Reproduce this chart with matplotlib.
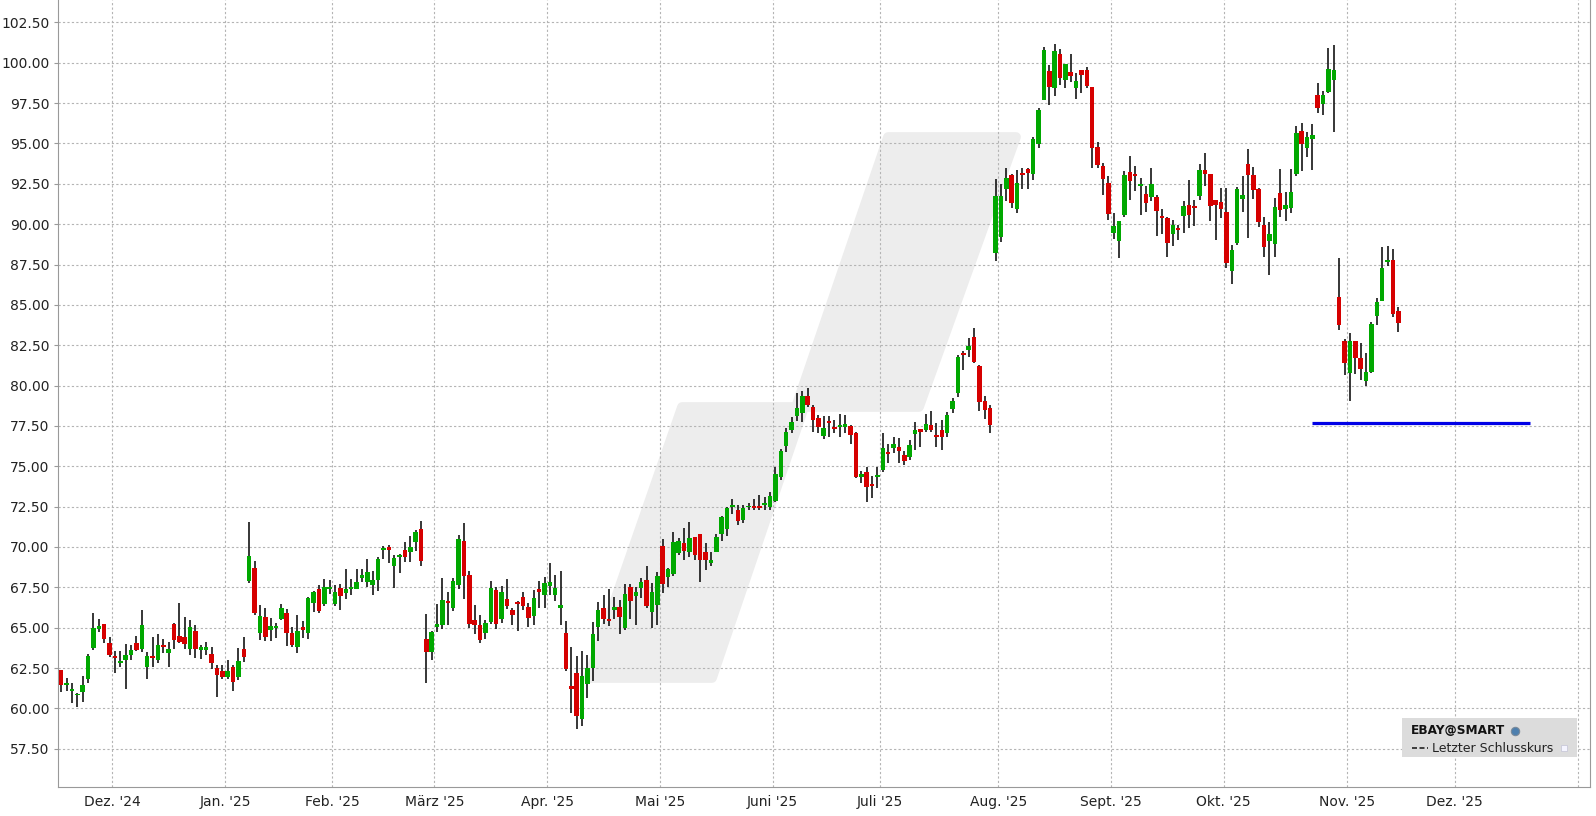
import numpy as np
import pandas as pd
import matplotlib
matplotlib.use("Agg")
import matplotlib.pyplot as plt
from matplotlib.patches import Polygon, Rectangle
from matplotlib.lines import Line2D

# Tageskerzen EBAY, ab 15.11.2024 (Handelstage)
opens = [62.37, 61.45, 61.10, 60.80, 61.03, 61.84, 63.76, 64.93, 65.22, 64.03,
         63.24, 62.83, 62.99, 63.30, 64.05, 63.70, 62.58, 63.24, 63.01, 63.90,
         63.45, 65.22, 64.48, 64.42, 63.70, 64.79, 63.63, 63.63, 63.37, 62.52,
         62.33, 61.96, 62.54, 61.96, 63.68, 67.91, 68.70, 64.69, 65.66, 64.86,
         65.00, 65.54, 65.91, 64.67, 63.82, 65.04, 64.69, 66.55, 67.40, 66.47,
         67.40, 66.47, 67.46, 67.13, 67.40, 67.40, 68.08, 67.83, 67.64, 67.95,
         69.81, 70.00, 68.82, 69.40, 69.81, 69.71, 70.33, 71.09, 64.30, 63.51,
         65.04, 65.19, 66.65, 66.24, 67.66, 70.37, 68.26, 65.48, 65.17, 64.69,
         65.37, 67.33, 65.56, 66.78, 66.10, 66.59, 66.90, 66.28, 65.74, 67.40,
         67.05, 67.60, 67.05, 66.24, 64.67, 61.39, 62.19, 59.36, 61.53, 62.52,
         65.06, 66.22, 65.54, 66.12, 66.30, 65.00, 67.52, 66.98, 67.48, 67.95,
         65.99, 66.43, 70.04, 68.16, 68.35, 69.65, 70.25, 69.71, 70.62, 70.80,
         69.69, 69.03, 69.71, 70.83, 71.14, 72.50, 72.29, 71.70, 72.45, 72.50,
         72.49, 72.60, 72.45, 72.86, 74.35, 76.25, 77.24, 78.11, 78.32, 79.37,
         78.69, 77.99, 76.89, 77.80, 77.43, 77.45, 77.41, 77.49, 77.06, 74.31,
         74.64, 73.92, 74.35, 74.76, 75.90, 76.13, 76.17, 75.69, 75.60, 77.00,
         77.31, 77.25, 77.56, 76.94, 77.25, 77.08, 78.55, 79.52, 82.04, 82.20,
         83.03, 81.23, 79.05, 78.63, 88.23, 89.23, 92.20, 93.05, 90.94, 93.17,
         93.42, 93.13, 94.99, 97.69, 99.49, 98.46, 100.54, 98.95, 99.43, 98.46,
         99.55, 99.55, 98.50, 94.76, 93.60, 92.53, 89.47, 88.97, 90.56, 93.23,
         93.12, 92.38, 91.86, 91.70, 91.68, 90.50, 90.38, 89.41, 89.76, 90.52,
         91.18, 91.12, 91.76, 93.35, 93.10, 91.49, 91.37, 90.75, 87.10, 88.85,
         91.58, 93.73, 93.05, 92.18, 89.95, 88.98, 88.79, 91.93, 90.94, 91.02,
         93.13, 95.77, 94.74, 95.30, 98.00, 97.45, 98.21, 98.93, 85.50, 82.76,
         80.80, 82.76, 81.69, 80.31, 80.86, 84.33, 85.26, 87.68, 87.78, 84.62]
highs = [62.40, 61.90, 61.55, 60.93, 62.00, 63.40, 65.88, 65.51, 65.23, 64.40,
         63.57, 63.55, 63.98, 63.92, 64.48, 66.09, 63.51, 64.40, 64.60, 64.27,
         64.13, 65.27, 66.50, 65.64, 65.47, 65.16, 63.92, 64.10, 63.80, 62.68,
         62.68, 63.00, 62.69, 63.72, 64.44, 71.57, 69.13, 66.40, 66.22, 65.58,
         65.27, 66.47, 66.14, 65.06, 65.78, 65.41, 66.90, 67.29, 67.64, 68.00,
         67.95, 67.64, 67.70, 68.63, 68.02, 68.63, 68.63, 69.23, 68.51, 69.36,
         70.06, 70.12, 69.50, 69.56, 70.33, 70.68, 71.05, 71.61, 65.85, 64.79,
         66.47, 68.08, 67.21, 68.08, 70.74, 71.49, 68.51, 66.40, 65.79, 65.48,
         67.89, 67.54, 67.58, 68.00, 66.22, 66.65, 67.21, 66.53, 67.35, 67.89,
         68.14, 69.00, 68.26, 68.51, 65.41, 63.78, 63.25, 63.56, 63.31, 65.37,
         66.59, 67.02, 67.40, 66.90, 66.71, 67.70, 67.70, 67.54, 68.08, 68.80,
         67.77, 68.45, 70.49, 68.70, 70.93, 70.56, 71.18, 71.55, 70.62, 70.80,
         70.25, 69.69, 70.80, 71.92, 72.48, 72.97, 72.60, 72.60, 72.70, 72.95,
         73.20, 73.11, 73.42, 74.93, 76.07, 77.37, 78.03, 79.56, 79.68, 79.84,
         78.81, 78.17, 78.11, 78.11, 77.86, 78.23, 78.17, 77.55, 77.14, 74.72,
         74.97, 74.39, 74.97, 77.08, 76.37, 76.83, 76.77, 75.92, 76.60, 77.72,
         77.31, 78.22, 78.42, 77.66, 77.87, 78.34, 79.21, 81.89, 82.16, 82.97,
         83.55, 81.27, 79.36, 78.80, 92.80, 92.49, 93.48, 93.11, 93.36, 93.48,
         93.48, 95.40, 97.20, 101.00, 99.86, 101.16, 100.85, 99.92, 100.54, 99.39,
         99.55, 99.76, 98.50, 95.11, 93.76, 92.98, 90.67, 90.19, 93.29, 94.22,
         93.60, 92.84, 92.36, 93.50, 91.80, 90.91, 90.42, 90.25, 89.95, 91.43,
         92.73, 91.49, 93.72, 94.40, 93.10, 91.49, 92.22, 92.22, 88.70, 92.28,
         92.98, 94.66, 93.54, 92.24, 90.46, 90.11, 91.62, 93.42, 91.99, 93.42,
         96.08, 96.27, 95.71, 96.21, 98.75, 98.25, 100.94, 101.10, 87.90, 82.88,
         83.26, 82.76, 82.62, 82.02, 83.92, 85.43, 88.59, 88.65, 88.46, 84.88]
lows = [61.00, 61.10, 60.35, 60.10, 60.40, 61.55, 63.61, 64.75, 64.07, 63.20,
        62.17, 62.54, 61.18, 63.00, 63.57, 63.51, 61.84, 62.58, 62.83, 63.45,
        62.58, 63.67, 64.03, 63.70, 63.30, 63.10, 63.06, 63.30, 62.44, 60.72,
        61.84, 61.84, 61.10, 61.76, 62.89, 67.79, 65.78, 64.24, 64.20, 64.20,
        64.38, 65.48, 63.88, 63.82, 63.45, 64.38, 64.28, 65.99, 65.93, 66.34,
        67.07, 66.34, 66.10, 66.80, 67.00, 67.38, 67.83, 67.50, 67.02, 67.29,
        69.25, 69.00, 67.46, 68.37, 69.09, 69.09, 69.77, 68.82, 61.55, 63.00,
        64.75, 64.94, 65.19, 66.05, 67.38, 66.80, 65.00, 64.63, 64.07, 64.32,
        65.25, 64.90, 65.31, 66.16, 65.19, 64.81, 66.12, 65.06, 65.19, 66.24,
        66.24, 67.05, 66.67, 65.19, 62.34, 59.69, 58.70, 58.93, 60.64, 61.72,
        64.20, 65.23, 65.12, 65.56, 64.63, 64.88, 65.56, 65.19, 66.86, 66.24,
        65.00, 65.19, 67.17, 67.50, 68.22, 69.50, 69.19, 69.40, 69.19, 67.85,
        68.59, 68.84, 69.71, 70.39, 70.70, 72.06, 71.38, 71.50, 72.30, 72.30,
        72.30, 72.30, 72.30, 72.80, 74.14, 75.90, 77.08, 77.82, 77.76, 78.69,
        77.14, 77.08, 76.68, 76.83, 77.04, 76.83, 77.04, 76.37, 74.25, 73.98,
        72.80, 73.01, 73.67, 74.66, 75.22, 75.80, 75.22, 75.07, 75.40, 76.00,
        76.21, 77.14, 77.14, 76.21, 76.00, 76.84, 78.28, 79.31, 80.96, 81.79,
        81.38, 78.42, 77.91, 77.04, 87.74, 88.90, 91.46, 91.02, 90.71, 92.20,
        92.20, 92.74, 94.72, 97.69, 97.38, 97.94, 98.62, 98.46, 98.83, 97.76,
        98.10, 98.46, 93.50, 93.50, 91.80, 90.25, 89.10, 87.92, 90.46, 91.49,
        92.05, 90.56, 90.77, 91.45, 89.26, 89.39, 87.98, 88.66, 89.00, 89.47,
        89.78, 89.90, 91.49, 92.38, 90.21, 89.04, 90.40, 87.30, 86.30, 88.73,
        90.77, 89.16, 91.54, 89.84, 87.99, 86.85, 87.99, 90.46, 90.20, 90.69,
        92.98, 93.31, 94.18, 93.38, 96.91, 96.76, 98.11, 95.73, 83.44, 80.65,
        79.06, 80.70, 80.34, 79.99, 80.76, 83.75, 85.26, 87.41, 84.27, 83.34]
closes = [61.46, 61.55, 61.20, 60.90, 61.45, 63.24, 64.98, 65.10, 64.32, 63.32,
          63.14, 62.93, 63.30, 63.61, 63.63, 65.16, 63.24, 63.12, 63.92, 63.80,
          63.65, 64.23, 64.10, 64.00, 65.04, 63.65, 63.80, 63.80, 62.83, 62.08,
          61.96, 62.33, 61.66, 62.93, 63.20, 69.44, 65.93, 65.72, 64.44, 65.10,
          65.10, 66.22, 64.69, 63.93, 64.79, 64.86, 66.82, 67.21, 66.05, 67.50,
          67.50, 67.21, 66.96, 67.40, 67.52, 67.83, 68.26, 68.45, 67.95, 69.25,
          69.93, 69.81, 69.32, 69.50, 69.40, 69.98, 70.93, 69.15, 63.51, 64.73,
          65.23, 66.71, 66.55, 67.89, 70.49, 68.22, 65.25, 65.17, 64.26, 65.29,
          67.46, 65.25, 67.21, 66.36, 65.81, 66.49, 66.36, 65.62, 66.84, 67.19,
          67.77, 67.83, 67.46, 66.40, 62.46, 61.22, 59.55, 62.00, 62.50, 64.61,
          66.10, 65.56, 65.43, 66.28, 65.68, 67.09, 66.67, 67.21, 67.83, 66.36,
          67.21, 68.20, 67.73, 68.63, 70.31, 70.37, 69.77, 70.56, 69.52, 69.21,
          69.21, 69.21, 70.62, 71.86, 72.42, 72.60, 71.63, 72.40, 72.50, 72.42,
          72.40, 72.74, 73.15, 74.52, 75.94, 77.12, 77.74, 78.63, 79.37, 78.81,
          77.86, 77.45, 77.37, 77.70, 77.33, 77.55, 77.61, 76.91, 74.35, 74.52,
          73.73, 73.80, 74.47, 76.13, 75.78, 76.37, 75.96, 75.34, 76.30, 77.25,
          77.14, 77.62, 77.25, 76.84, 76.84, 78.18, 79.05, 81.77, 81.89, 82.47,
          81.48, 79.00, 78.49, 77.56, 91.74, 91.74, 92.86, 91.33, 92.55, 93.07,
          93.19, 95.28, 97.07, 100.79, 98.52, 100.73, 99.08, 99.92, 99.20, 98.87,
          99.26, 98.58, 94.70, 93.68, 92.81, 90.65, 89.88, 90.19, 93.04, 92.69,
          93.00, 92.48, 91.33, 92.48, 90.83, 90.40, 88.85, 89.95, 89.66, 91.12,
          90.58, 91.00, 93.35, 93.12, 91.14, 91.20, 90.96, 87.61, 88.40, 92.17,
          91.80, 93.05, 92.12, 90.13, 88.61, 89.39, 91.06, 90.90, 91.19, 91.99,
          95.65, 94.99, 95.40, 95.52, 97.22, 98.00, 99.61, 99.55, 83.75, 81.38,
          82.76, 81.73, 81.03, 80.86, 83.81, 85.18, 87.28, 87.78, 84.43, 83.90]

holidays = ["2024-11-28", "2024-12-25", "2025-01-01", "2025-01-09", "2025-01-20",
            "2025-02-17", "2025-04-18", "2025-05-26", "2025-06-19", "2025-07-04",
            "2025-09-01"]
monate = {1: "Jan.", 2: "Feb.", 3: "März", 4: "Apr.", 5: "Mai", 6: "Juni",
          7: "Juli", 8: "Aug.", 9: "Sept.", 10: "Okt.", 11: "Nov.", 12: "Dez."}
letzter_kurs = 77.66
linie_von, linie_bis = "2025-10-23", "2025-12-18"

# Handelstage + (ab Datenende) alle Wochentage
tage = pd.bdate_range("2024-11-15", "2026-01-30")
handel = tage[~tage.isin(pd.to_datetime(holidays))][:len(closes)]
achse = handel.append(tage[tage > handel[-1]])

o = np.array(opens); h = np.array(highs); l = np.array(lows); c = np.array(closes)
x = np.arange(len(c))

fig = plt.figure(figsize=(15.96, 8.16), dpi=100)
ax = fig.add_axes([58/1596, 29.5/816, 1532/1596, 786.5/816])
ax.set_xlim(-0.6, 284.7)
ax.set_ylim(55.16, 103.89)

# Wasserzeichen im Hintergrund
pts = [(588, 678), (712, 678), (804, 407), (919, 407), (1016, 137),
       (888, 137), (796, 407), (682, 407)]
wz = Polygon([(px/1596, 1 - py/816) for px, py in pts], closed=True,
             transform=fig.transFigure, facecolor="#ededed", edgecolor="#ededed",
             linewidth=7, joinstyle="round", zorder=0.1)
ax.add_patch(wz)

# Kerzen
up = c >= o
farben = np.where(up, "#00a800", "#d60000")
ax.vlines(x, l, h, color="black", linewidth=1.1, zorder=2)
unten = np.minimum(o, c)
hoehe = np.maximum(np.abs(c - o), 0.11)
ax.bar(x, hoehe, bottom=unten, width=0.84, color=farben, linewidth=0, zorder=3)

# Letzter Schlusskurs
i0 = achse.get_loc(pd.Timestamp(linie_von))
i1 = achse.get_loc(pd.Timestamp(linie_bis)) + 0.5
ax.hlines(letzter_kurs, i0, i1, color="#0000e6", linewidth=2.3, zorder=4)

# Monatsachse
pos, lab = [], []
for i in range(1, len(achse)):
    if achse[i].month != achse[i - 1].month:
        pos.append(i - 0.5)
        d = achse[i]
        lab.append(f"{monate[d.month]} '{d.year % 100:02d}" if i < 280 else "")
ax.set_xticks(pos)
ax.set_xticklabels(lab)
yt = np.arange(57.5, 103, 2.5)
ax.set_yticks(yt)
ax.set_yticklabels([f"{v:.2f}" for v in yt])

ax.set_axisbelow(True)
ax.grid(True, color="#b4b4b4", linestyle=(0, (2, 2)), linewidth=0.8)
ax.tick_params(axis="x", length=0, pad=6, labelsize=10, colors="#222222")
ax.tick_params(axis="y", length=3, pad=3, labelsize=10, colors="#222222")
ax.tick_params(axis="both", color="#999999")
for s in ["left", "bottom", "right"]:
    ax.spines[s].set_color("#999999")
ax.spines["top"].set_visible(False)

# Legende unten rechts
fig.patches.append(Rectangle((1402/1596, 1 - 757/816), 175/1596, 39/816,
                             transform=fig.transFigure, facecolor="#dcdcdc",
                             edgecolor="none", zorder=5))
fig.text(1411/1596, 1 - 731/816, "EBAY@SMART", fontsize=8.7, fontweight="bold",
         va="center", ha="left", color="#111111", zorder=6)
fig.lines.append(Line2D([1515/1596], [1 - 731/816], transform=fig.transFigure,
                        marker="o", markersize=6, markerfacecolor="#4d7fae",
                        markeredgecolor="#7a8a9a", markeredgewidth=0.8,
                        linestyle="none", zorder=6))
fig.lines.append(Line2D([1412/1596, 1428/1596], [1 - 748/816, 1 - 748/816],
                        transform=fig.transFigure, color="#222222", linewidth=1.2,
                        linestyle=(0, (3, 1.5)), zorder=6))
fig.text(1432/1596, 1 - 748/816, "Letzter Schlusskurs", fontsize=9, va="center",
         ha="left", color="#222222", zorder=6)
fig.patches.append(Rectangle((1561/1596, 1 - 751/816), 6/1596, 6/816,
                             transform=fig.transFigure, facecolor="#f4f4ff",
                             edgecolor="#c8c8d8", linewidth=0.6, zorder=6))

fig.savefig("out.png", dpi=100)
